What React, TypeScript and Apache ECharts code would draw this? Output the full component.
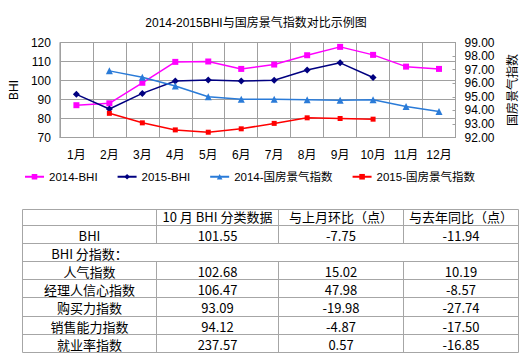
import React, { useEffect, useRef } from "react";
import * as echarts from "echarts";

const titleText = "2014-2015BHI与国房景气指数对比示例图";
const months = ["1月", "2月", "3月", "4月", "5月", "6月", "7月", "8月", "9月", "10月", "11月", "12月"];
const seriesNames = ["2014-BHI", "2015-BHI", "2014-国房景气指数", "2015-国房景气指数"];
const bhi2014 = [87, 88, 98.8, 109.8, 110, 106.1, 108.4, 113.3, 117.7, 113.49, 107.3, 106.1];
const bhi2015 = [92.7, 85, 93.2, 99.7, 100.3, 99.7, 100.1, 105.5, 109.3, 101.55, null, null];
const gf2014 = [null, 96.91, 96.44, 95.8, 95.0, 94.81, 94.81, 94.78, 94.74, 94.78, 94.29, 93.92];
const gf2015 = [null, 93.78, 93.08, 92.56, 92.39, 92.64, 93.04, 93.45, 93.4, 93.35, null, null];

const tableHeaders = ["", "10 月 BHI 分类数据", "与上月环比（点）", "与去年同比（点）"];
const subIndexLabel = "BHI 分指数：";
const rowNames = ["BHI", "人气指数", "经理人信心指数", "购买力指数", "销售能力指数", "就业率指数"];
const octValues = ["101.55", "102.68", "106.47", "93.09", "94.12", "237.57"];
const momValues = ["-7.75", "15.02", "47.98", "-19.98", "-4.87", "0.57"];
const yoyValues = ["-11.94", "10.19", "-8.57", "-27.74", "-17.50", "-16.85"];

const SANS = "'Liberation Sans', Arial, 'Noto Sans CJK SC', sans-serif";
const CJK = "'Noto Sans CJK SC', sans-serif";

function buildTable() {
  const els: any[] = [];
  const rowY = [209.5, 225.5, 243.5, 261.5, 279.5, 297.5, 316.5, 334.5, 352.5];
  const colX = [22.5, 156.5, 278.5, 403.5, 518.5];
  const stroke = "#a6a6a6";
  rowY.forEach((y) => {
    els.push({ type: "line", shape: { x1: colX[0], y1: y, x2: colX[4], y2: y }, style: { stroke, lineWidth: 1 } });
  });
  [colX[0], colX[4]].forEach((x) => {
    els.push({ type: "line", shape: { x1: x, y1: rowY[0], x2: x, y2: rowY[8] }, style: { stroke, lineWidth: 1 } });
  });
  [colX[1], colX[2], colX[3]].forEach((x) => {
    els.push({ type: "line", shape: { x1: x, y1: rowY[0], x2: x, y2: rowY[2] }, style: { stroke, lineWidth: 1 } });
    els.push({ type: "line", shape: { x1: x, y1: rowY[3], x2: x, y2: rowY[8] }, style: { stroke, lineWidth: 1 } });
  });
  const txt = (t: string, cx: number, cy: number) => ({
    type: "text",
    x: cx,
    y: cy,
    style: {
      text: t,
      align: "center",
      verticalAlign: "middle",
      fill: "#000",
      fontSize: 13,
      lineHeight: 14,
      fontFamily: CJK,
    },
  });
  const centers = [0, 1, 2, 3].map((i) => (colX[i] + colX[i + 1]) / 2);
  const rowC = (i: number) => (rowY[i] + rowY[i + 1]) / 2 + 0.5;
  tableHeaders.forEach((h, i) => {
    if (h) els.push(txt(h, centers[i], rowC(0) - 1.5));
  });
  const rowIndex = [1, 3, 4, 5, 6, 7];
  rowNames.forEach((name, k) => {
    const r = rowIndex[k];
    const dy = r === 1 ? 0.5 : 0;
    els.push(txt(name, centers[0], rowC(r) + dy));
    els.push(txt(octValues[k], centers[1], rowC(r) + dy));
    els.push(txt(momValues[k], centers[2], rowC(r) + dy));
    els.push(txt(yoyValues[k], centers[3], rowC(r) + dy));
  });
  els.push(txt(subIndexLabel, centers[0], rowC(2)));
  return els;
}

export default function App() {
  const ref = useRef<HTMLDivElement>(null);
  useEffect(() => {
    if (!ref.current) return;
    const chart = echarts.init(ref.current, undefined, { renderer: "svg" });
    const gridColor = "#a0a0a0";
    const option: any = {
      animation: false,
      backgroundColor: "#fff",
      title: {
        text: titleText,
        left: 251,
        top: 12,
        textAlign: "center",
        textStyle: { fontSize: 12, fontWeight: "normal", color: "#000", fontFamily: SANS },
      },
      legend: {
        data: seriesNames,
        left: 24,
        top: 171,
        padding: 0,
        itemWidth: 19,
        itemHeight: 7,
        itemGap: 19,
        textStyle: { fontSize: 11.5, color: "#000", fontFamily: SANS },
      },
      grid: { left: 55.5, top: 42.5, width: 400, height: 95, show: true, borderColor: gridColor, borderWidth: 1 },
      xAxis: {
        type: "category",
        data: months,
        boundaryGap: true,
        axisLine: { lineStyle: { color: gridColor } },
        axisTick: { show: false },
        splitLine: { show: true, lineStyle: { color: gridColor, width: 1 } },
        axisLabel: { color: "#000", fontSize: 12, margin: 11, fontFamily: SANS },
      },
      yAxis: [
        {
          type: "value",
          min: 70,
          max: 120,
          interval: 10,
          name: "BHI",
          nameLocation: "middle",
          nameRotate: 90,
          nameGap: 34,
          nameTextStyle: { color: "#000", fontSize: 12, fontFamily: SANS },
          axisLine: { show: true, lineStyle: { color: gridColor } },
          axisTick: { show: false },
          splitLine: { show: true, lineStyle: { color: gridColor, width: 1 } },
          axisLabel: { color: "#000", fontSize: 12, margin: 9, fontFamily: SANS },
        },
        {
          type: "value",
          min: 92,
          max: 99,
          interval: 1,
          position: "right",
          name: "国房景气指数",
          nameLocation: "middle",
          nameRotate: 90,
          nameGap: 50,
          nameTextStyle: { color: "#000", fontSize: 12, fontFamily: CJK },
          axisLine: { show: true, lineStyle: { color: gridColor } },
          axisTick: { show: true, inside: true, length: 3, lineStyle: { color: gridColor } },
          splitLine: { show: false },
          axisLabel: { color: "#000", fontSize: 12, margin: 9, fontFamily: SANS, formatter: (v: number) => v.toFixed(2) },
        },
      ],
      series: [
        {
          name: seriesNames[0],
          type: "line",
          yAxisIndex: 0,
          data: bhi2014,
          symbol: "rect",
          symbolSize: 6,
          itemStyle: { color: "#ff00ff" },
          lineStyle: { color: "#ff00ff", width: 1.5 },
        },
        {
          name: seriesNames[1],
          type: "line",
          yAxisIndex: 0,
          data: bhi2015,
          symbol: "diamond",
          symbolSize: 7,
          itemStyle: { color: "#000080" },
          lineStyle: { color: "#000080", width: 1.5 },
        },
        {
          name: seriesNames[2],
          type: "line",
          yAxisIndex: 1,
          data: gf2014,
          symbol: "triangle",
          symbolSize: 7,
          itemStyle: { color: "#2a7bd8" },
          lineStyle: { color: "#2a7bd8", width: 1.5 },
        },
        {
          name: seriesNames[3],
          type: "line",
          yAxisIndex: 1,
          data: gf2015,
          symbol: "rect",
          symbolSize: 5,
          itemStyle: { color: "#ff0000" },
          lineStyle: { color: "#ff0000", width: 1.5 },
        },
      ],
      graphic: buildTable(),
    };
    chart.setOption(option);
    return () => chart.dispose();
  }, []);
  return (
    <div
      ref={ref}
      style={{ position: "absolute", left: 0, top: 0, width: 532, height: 357, background: "#fff" }}
    />
  );
}
